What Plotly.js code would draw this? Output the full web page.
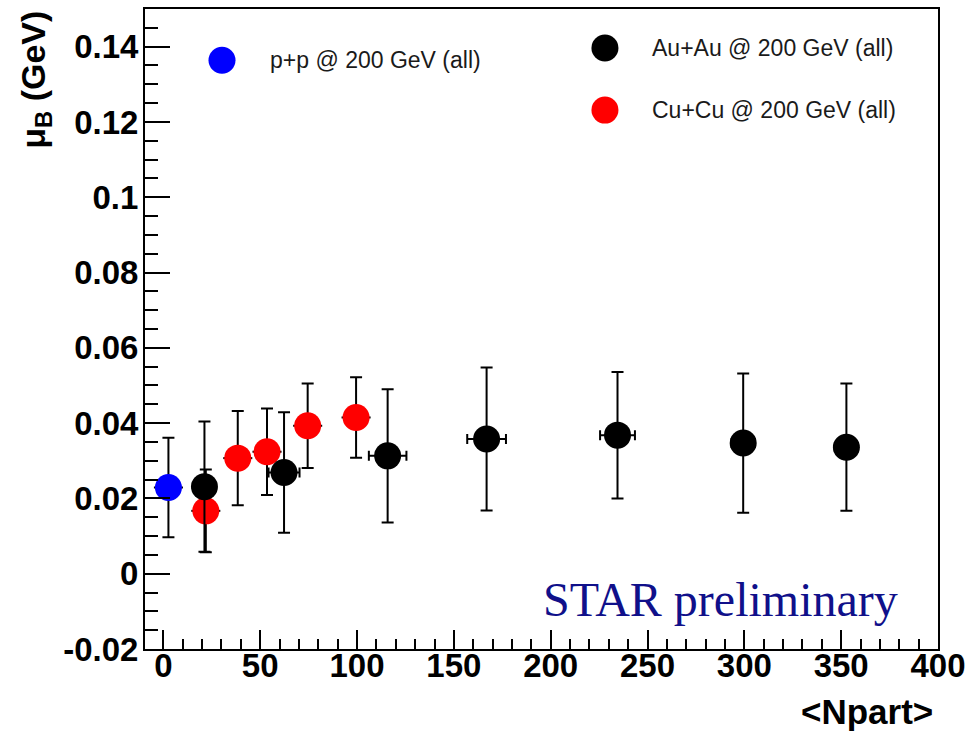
<!DOCTYPE html>
<html>
<head>
<meta charset="utf-8">
<script src="https://cdn.plot.ly/plotly-3.0.1.min.js"></script>
<style>html,body{margin:0;padding:0;background:#fff;}#chart{width:971px;height:734px;}</style>
</head>
<body>
<div id="chart"></div>
<script>
// ---- data ----
const ppX = [2.6];
const ppY = [0.0229];
const ppErr = [0.0132];
const ppXErr = [7.5];

const auauX = [21.2, 62.3, 115.8, 166.9, 234.5, 299.4, 352.7];
const auauY = [0.0231, 0.0269, 0.0313, 0.0358, 0.0368, 0.0347, 0.0336];
const auauErr = [0.0173, 0.0160, 0.0177, 0.0190, 0.0168, 0.0185, 0.0169];
const auauXErr = [5, 8, 9.7, 10, 9, 6, 6];

const cucuX = [21.9, 38.4, 53.5, 74.5, 99.5];
const cucuY = [0.0167, 0.0307, 0.0324, 0.0393, 0.0415];
const cucuErr = [0.0110, 0.0125, 0.0115, 0.0112, 0.0107];
const cucuXErr = [7.5, 7.5, 7.5, 7.5, 7.5];

const yTickVals = [-0.02, 0, 0.02, 0.04, 0.06, 0.08, 0.1, 0.12, 0.14];
const yTickText = ["-0.02", "0", "0.02", "0.04", "0.06", "0.08", "0.1", "0.12", "0.14"];
const xTickVals = [0, 50, 100, 150, 200, 250, 300, 350, 400];
const xTickText = ["0", "50", "100", "150", "200", "250", "300", "350", "400"];

const legendNames = ["p+p @ 200 GeV (all)", "Au+Au @ 200 GeV (all)", "Cu+Cu @ 200 GeV (all)"];
const legendColors = ["#0000ff", "#000000", "#ff0000"];

// ---- traces ----
function errTrace(x, y, e, xe, color, capW) {
  return {
    type: 'scatter', mode: 'markers', x: x, y: y,
    marker: {color: color, size: 27, symbol: 'circle', line: {width: 0}},
    error_y: {type: 'data', array: e, visible: true, color: '#000', thickness: 2, width: 6},
    error_x: {type: 'data', array: xe, visible: true, color: '#000', thickness: 2, width: capW},
    showlegend: false, hoverinfo: 'x+y'
  };
}
const traces = [
  errTrace(cucuX, cucuY, cucuErr, cucuXErr, legendColors[2], 0),
  errTrace(auauX, auauY, auauErr, auauXErr, legendColors[1], 5),
  errTrace(ppX, ppY, ppErr, ppXErr, legendColors[0], 0)
];

const tickFont = {family: 'Liberation Sans, Arial, sans-serif', size: 33, color: '#000', weight: 'bold'};

// legend-like markers & labels (paper coords)
const legPos = [[0.0971, 0.920], [0.580, 0.939], [0.580, 0.842]];
const legTextX = [0.155, 0.637, 0.637];
const shapes = legPos.map((p, i) => ({
  type: 'circle', xref: 'paper', yref: 'paper', xsizemode: 'pixel', ysizemode: 'pixel',
  xanchor: p[0], yanchor: p[1], x0: -13.5, x1: 13.5, y0: -13.5, y1: 13.5,
  fillcolor: legendColors[i], line: {width: 0}
}));
const annotations = legPos.map((p, i) => ({
  xref: 'paper', yref: 'paper', x: legTextX[i], y: p[1], xanchor: 'left', yanchor: 'middle',
  text: legendNames[i], showarrow: false,
  font: {family: 'Liberation Sans, Arial, sans-serif', size: 23, color: '#1a1a1a'}
}));
annotations.push({
  xref: 'paper', yref: 'paper', x: 0.952, y: 0.077, xanchor: 'right', yanchor: 'middle',
  text: 'STAR preliminary', showarrow: false,
  font: {family: 'Liberation Serif, Times New Roman, serif', size: 48, color: '#10108a'}
});
annotations.push({
  xref: 'paper', yref: 'paper', x: 0.996, y: -0.098, xanchor: 'right', yanchor: 'middle',
  text: '&lt;Npart&gt;', showarrow: false,
  font: {family: 'Liberation Sans, Arial, sans-serif', size: 35, color: '#000', weight: 'bold'}
});
annotations.push({
  xref: 'paper', yref: 'paper', x: -0.139, y: 1.0, xanchor: 'center', yanchor: 'top',
  text: 'μ<sub>B</sub> (GeV)', textangle: -90, showarrow: false,
  font: {family: 'Liberation Sans, Arial, sans-serif', size: 34, color: '#000', weight: 'bold'}
});

const layout = {
  width: 971, height: 734,
  margin: {l: 145, r: 33, t: 9, b: 85, pad: 0},
  paper_bgcolor: '#fff', plot_bgcolor: '#fff',
  showlegend: false,
  xaxis: {
    range: [-9.5, 400], showgrid: false, zeroline: false,
    showline: true, mirror: true, linecolor: '#000', linewidth: 2,
    ticks: 'inside', ticklen: 19, tickwidth: 2, tickcolor: '#000',
    tickmode: 'array', tickvals: xTickVals, ticktext: xTickText,
    tickfont: tickFont, ticklabelstandoff: -14,
    minor: {tickmode: 'linear', tick0: 0, dtick: 10, ticks: 'inside', ticklen: 10, tickwidth: 2, tickcolor: '#000', showgrid: false}
  },
  yaxis: {
    range: [-0.02, 0.15], showgrid: false, zeroline: false,
    showline: true, mirror: true, linecolor: '#000', linewidth: 2,
    ticks: 'inside', ticklen: 25, tickwidth: 2, tickcolor: '#000',
    tickmode: 'array', tickvals: yTickVals, ticktext: yTickText,
    tickfont: tickFont, ticklabelstandoff: -2,
    minor: {tickmode: 'linear', tick0: 0, dtick: 0.005, ticks: 'inside', ticklen: 13, tickwidth: 2, tickcolor: '#000', showgrid: false}
  },
  shapes: shapes,
  annotations: annotations
};

Plotly.newPlot('chart', traces, layout, {displayModeBar: false, staticPlot: true});
</script>
</body>
</html>
